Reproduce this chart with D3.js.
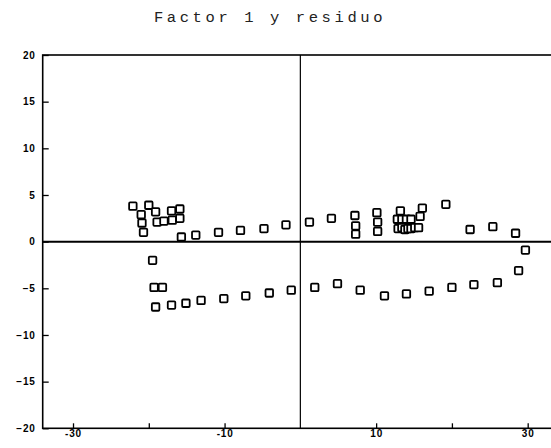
<!DOCTYPE html>
<html>
<head>
<meta charset="utf-8">
<script src="https://cdn.jsdelivr.net/npm/d3@7"></script>
<style>
  html, body { margin: 0; padding: 0; background: #fff; }
  svg { display: block; }
</style>
</head>
<body>
<div id="chart"></div>
<script>
// Factor 1 (x) vs residuo (y)
const factor1 = [
  -22.1, -21.0, -20.9, -20.7, -20.0, -19.1, -18.9, -18.0, -17.0, -16.9, -15.9, -15.9,
  -15.7, -13.8, -10.8, -7.9, -4.8, -1.9,
  1.2, 4.1, 7.2, 7.3, 7.3, 10.1, 10.2, 10.2, 13.2,
  12.8, 13.4, 14.0, 14.6, 15.8,
  12.9, 13.4, 13.8, 14.2, 14.6, 15.1, 15.6,
  16.1, 19.2, 22.4, 25.4, 28.4, 29.7, 28.8,
  -19.5, -19.3, -18.2, -19.1, -17.0, -15.1, -13.1, -10.1, -7.2, -4.1, -1.2,
  1.9, 4.9, 7.9, 11.1, 14.0, 17.0, 20.0, 22.9, 26.0
];
const residuo = [
  3.8, 2.9, 2.0, 1.0, 3.9, 3.2, 2.1, 2.2, 3.3, 2.3, 3.5, 2.5,
  0.5, 0.7, 1.0, 1.2, 1.4, 1.8,
  2.1, 2.5, 2.8, 1.7, 0.8, 3.1, 2.1, 1.1, 3.3,
  2.4, 2.4, 2.4, 2.4, 2.7,
  1.4, 1.5, 1.3, 1.4, 1.4, 1.5, 1.5,
  3.6, 4.0, 1.3, 1.6, 0.9, -0.9, -3.1,
  -2.0, -4.9, -4.9, -7.0, -6.8, -6.6, -6.3, -6.1, -5.8, -5.5, -5.2,
  -4.9, -4.5, -5.2, -5.8, -5.6, -5.3, -4.9, -4.6, -4.4
];

const xTicks = [-30, -20, -10, 10, 20, 30];
const xLabeled = [-30, -10, 10, 30];
const yTicks = [-20, -15, -10, -5, 0, 5, 10, 15, 20];

const W = 551, H = 448;
const mLeft = 42.7, mTop = 55, mBottom = 428.3, mRight = 558;

const svg = d3.select("#chart").append("svg")
  .attr("width", W)
  .attr("height", H)
  .style("font-family", "'DejaVu Sans', sans-serif");

const x = d3.scaleLinear().domain([-34, 34]).range([mLeft, mRight]);
const y = d3.scaleLinear().domain([-20, 20]).range([mBottom, mTop]);

/* title */
svg.append("text")
  .attr("x", 270)
  .attr("y", 22)
  .attr("text-anchor", "middle")
  .style("font-family", "'Liberation Mono', monospace")
  .style("font-size", "15.5px")
  .style("letter-spacing", "3.6px")
  .attr("fill", "#222")
  .text("Factor 1 y residuo");

/* frame */
svg.append("rect")
  .attr("x", mLeft).attr("y", mTop)
  .attr("width", mRight - mLeft).attr("height", mBottom - mTop)
  .attr("fill", "none")
  .attr("stroke", "#000")
  .attr("stroke-width", 1.6);

/* axes, ticks pointing inward */
const yAxis = svg.append("g")
  .attr("transform", `translate(${mLeft},0)`)
  .call(d3.axisLeft(y).tickValues(yTicks).tickSize(-6).tickSizeOuter(0).tickPadding(7));

const xAxis = svg.append("g")
  .attr("transform", `translate(0,${mBottom})`)
  .call(d3.axisBottom(x).tickValues(xTicks).tickSize(-5).tickSizeOuter(0).tickPadding(2)
    .tickFormat(d => xLabeled.includes(d) ? d : ""));

[yAxis, xAxis].forEach(g => {
  g.select(".domain").remove();
  g.selectAll(".tick line").attr("stroke", "#000").attr("stroke-width", 1.3);
  g.selectAll(".tick text")
    .attr("fill", "#000")
    .style("font-size", "10px")
    .style("font-weight", "bold")
    .style("letter-spacing", "0.8px");
});

/* zero lines */
svg.append("line")
  .attr("x1", mLeft).attr("x2", mRight)
  .attr("y1", y(0)).attr("y2", y(0))
  .attr("stroke", "#000").attr("stroke-width", 2);

svg.append("line")
  .attr("x1", x(0)).attr("x2", x(0))
  .attr("y1", mTop).attr("y2", mBottom)
  .attr("stroke", "#000").attr("stroke-width", 1.2);

/* points: open squares */
const s = 7.5;
svg.selectAll("rect.pt")
  .data(d3.range(factor1.length))
  .enter().append("rect")
  .attr("class", "pt")
  .attr("x", i => x(factor1[i]) - s / 2)
  .attr("y", i => y(residuo[i]) - s / 2)
  .attr("width", s)
  .attr("height", s)
  .attr("rx", 1)
  .attr("fill", "#fff")
  .attr("stroke", "#000")
  .attr("stroke-width", 1.8);
</script>
</body>
</html>
